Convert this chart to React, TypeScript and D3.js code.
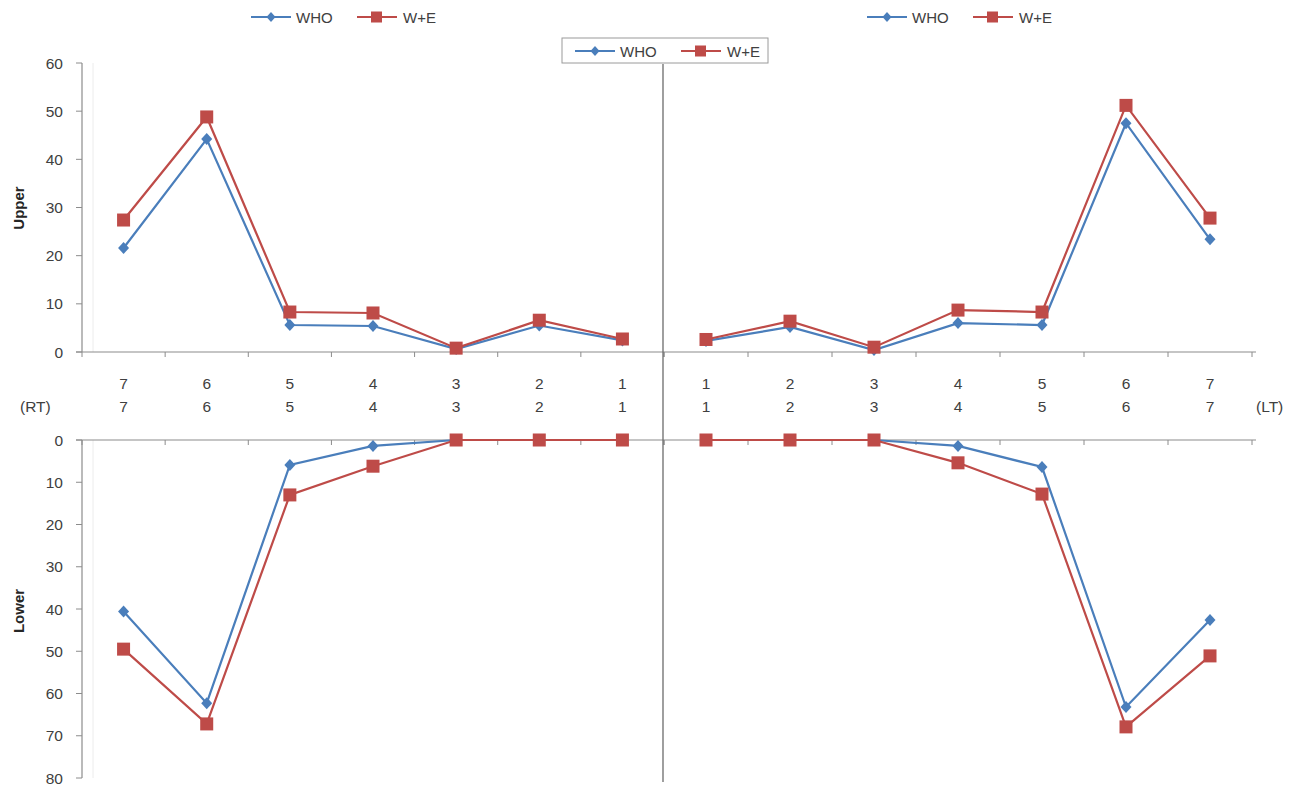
import React from "react";
import * as d3 from "d3";

const leftCats = ["7", "6", "5", "4", "3", "2", "1"];
const rightCats = ["1", "2", "3", "4", "5", "6", "7"];

const upperLeftWHO = [21.6, 44.2, 5.6, 5.4, 0.6, 5.5, 2.4];
const upperLeftWE = [27.4, 48.8, 8.3, 8.1, 0.8, 6.6, 2.7];
const upperRightWHO = [2.3, 5.2, 0.4, 6.0, 5.6, 47.5, 23.4];
const upperRightWE = [2.6, 6.4, 1.0, 8.7, 8.3, 51.2, 27.8];

const lowerLeftWHO = [40.6, 62.3, 5.9, 1.4, 0, 0, 0];
const lowerLeftWE = [49.5, 67.2, 13.0, 6.2, 0, 0, 0];
const lowerRightWHO = [0, 0, 0, 1.4, 6.4, 63.2, 42.6];
const lowerRightWE = [0, 0, 0, 5.4, 12.8, 67.9, 51.1];

const upperTicks = [0, 10, 20, 30, 40, 50, 60];
const lowerTicks = [0, 10, 20, 30, 40, 50, 60, 70, 80];

const BLUE = "#4A7EBB";
const RED = "#BE4B48";
const AXIS = "#8C8C8C";
const TEXT = "#404040";
const FONT = "'Liberation Sans', Arial, sans-serif";

export default function App() {
  const xL = d3.scaleBand<string>().domain(leftCats).range([82, 664]);
  const xR = d3.scaleBand<string>().domain(rightCats).range([664, 1252]);
  const yU = d3.scaleLinear().domain([0, 60]).range([352, 63]);
  const yD = d3.scaleLinear().domain([0, 80]).range([440, 778]);

  const cx = (s: d3.ScaleBand<string>, c: string) => (s(c) as number) + s.bandwidth() / 2;

  const series = (
    cats: string[],
    xs: d3.ScaleBand<string>,
    ys: d3.ScaleLinear<number, number>,
    vals: number[],
    color: string,
    kind: "diamond" | "square",
    key: string
  ) => {
    const line = d3
      .line<number>()
      .x((_, i) => cx(xs, cats[i]))
      .y((v) => ys(v));
    return (
      <g key={key}>
        <path d={line(vals) || ""} fill="none" stroke={color} strokeWidth={2.2} />
        {vals.map((v, i) => {
          const x = cx(xs, cats[i]);
          const y = ys(v);
          return kind === "square" ? (
            <rect key={i} x={x - 6.5} y={y - 6.5} width={13} height={13} fill={color} />
          ) : (
            <path key={i} d={`M${x},${y - 6}L${x + 5.5},${y}L${x},${y + 6}L${x - 5.5},${y}Z`} fill={color} />
          );
        })}
      </g>
    );
  };

  const legend = (x: number, y: number, key: string) => (
    <g key={key} fontFamily={FONT} fontSize={15} fill={TEXT}>
      <line x1={x} x2={x + 40} y1={y} y2={y} stroke={BLUE} strokeWidth={2.2} />
      <path d={`M${x + 20},${y - 5}L${x + 24.5},${y}L${x + 20},${y + 5}L${x + 15.5},${y}Z`} fill={BLUE} />
      <text x={x + 45} y={y + 5.5}>WHO</text>
      <line x1={x + 106} x2={x + 146} y1={y} y2={y} stroke={RED} strokeWidth={2.2} />
      <rect x={x + 120} y={y - 5.5} width={11} height={11} fill={RED} />
      <text x={x + 152} y={y + 5.5}>W+E</text>
    </g>
  );

  const bandEdgesL = leftCats.map((c) => xL(c) as number).concat([664]);
  const bandEdgesR = rightCats.map((c) => xR(c) as number).concat([1252]);

  return (
    <svg width={1300} height={792} style={{ display: "block", position: "absolute", left: 0, top: 0 }}>
      <rect x={0} y={0} width={1300} height={792} fill="#fff" />
      {/* faint plot-area line */}
      <line x1={93} x2={93} y1={63} y2={352} stroke="#ececec" strokeWidth={1} />
      <line x1={93} x2={93} y1={440} y2={778} stroke="#ececec" strokeWidth={1} />

      {/* upper y axis */}
      <line x1={82} x2={82} y1={63} y2={352} stroke={AXIS} strokeWidth={1.2} />
      {upperTicks.map((t) => (
        <g key={"u" + t}>
          <line x1={76} x2={82} y1={yU(t)} y2={yU(t)} stroke={AXIS} />
          <text x={63} y={yU(t) + 5.5} textAnchor="end" fontFamily={FONT} fontSize={15.5} fill={TEXT}>
            {t}
          </text>
        </g>
      ))}
      {/* lower y axis */}
      <line x1={82} x2={82} y1={440} y2={778} stroke={AXIS} strokeWidth={1.2} />
      {lowerTicks.map((t) => (
        <g key={"d" + t}>
          <line x1={76} x2={82} y1={yD(t)} y2={yD(t)} stroke={AXIS} />
          <text x={63} y={yD(t) + 5.5} textAnchor="end" fontFamily={FONT} fontSize={15.5} fill={TEXT}>
            {t}
          </text>
        </g>
      ))}

      {/* horizontal axes */}
      <line x1={76} x2={1256} y1={352} y2={352} stroke={AXIS} strokeWidth={1.2} />
      <line x1={76} x2={1256} y1={440} y2={440} stroke={AXIS} strokeWidth={1.2} />
      {bandEdgesL.concat(bandEdgesR).map((e, i) => (
        <g key={"be" + i}>
          <line x1={e} x2={e} y1={352} y2={357} stroke={AXIS} />
          <line x1={e} x2={e} y1={440} y2={445} stroke={AXIS} />
        </g>
      ))}

      {/* center line */}
      <line x1={663} x2={663} y1={64} y2={782} stroke="#6b6b6b" strokeWidth={1.3} />

      {/* category labels */}
      {leftCats.map((c) => (
        <g key={"lc" + c} fontFamily={FONT} fontSize={15.5} fill={TEXT} textAnchor="middle">
          <text x={cx(xL, c)} y={389}>{c}</text>
          <text x={cx(xL, c)} y={412}>{c}</text>
        </g>
      ))}
      {rightCats.map((c) => (
        <g key={"rc" + c} fontFamily={FONT} fontSize={15.5} fill={TEXT} textAnchor="middle">
          <text x={cx(xR, c)} y={389}>{c}</text>
          <text x={cx(xR, c)} y={412}>{c}</text>
        </g>
      ))}
      <text x={20} y={412} fontFamily={FONT} fontSize={15.5} fill={TEXT}>(RT)</text>
      <text x={1256} y={412} fontFamily={FONT} fontSize={15.5} fill={TEXT}>(LT)</text>

      {/* axis titles */}
      <text transform="translate(24,208) rotate(-90)" textAnchor="middle" fontFamily={FONT} fontWeight="bold" fontSize={15} fill="#262626">
        Upper
      </text>
      <text transform="translate(24,611) rotate(-90)" textAnchor="middle" fontFamily={FONT} fontWeight="bold" fontSize={15} fill="#262626">
        Lower
      </text>

      {/* series */}
      {series(leftCats, xL, yU, upperLeftWHO, BLUE, "diamond", "a")}
      {series(leftCats, xL, yU, upperLeftWE, RED, "square", "b")}
      {series(rightCats, xR, yU, upperRightWHO, BLUE, "diamond", "c")}
      {series(rightCats, xR, yU, upperRightWE, RED, "square", "d")}
      {series(leftCats, xL, yD, lowerLeftWHO, BLUE, "diamond", "e")}
      {series(leftCats, xL, yD, lowerLeftWE, RED, "square", "f")}
      {series(rightCats, xR, yD, lowerRightWHO, BLUE, "diamond", "g")}
      {series(rightCats, xR, yD, lowerRightWE, RED, "square", "h")}

      {/* legends */}
      {legend(251, 17, "lg1")}
      <rect x={562} y={38} width={206} height={25} fill="#fff" stroke="#9a9a9a" strokeWidth={1} />
      {legend(575, 51, "lg2")}
      {legend(867, 17, "lg3")}
    </svg>
  );
}
